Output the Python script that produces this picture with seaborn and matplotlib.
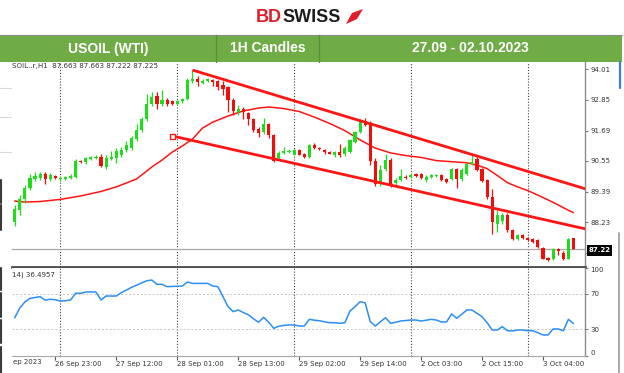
import matplotlib
matplotlib.use("Agg")
import matplotlib.pyplot as plt
import numpy as np
import pandas as pd
import seaborn as sns
from matplotlib.patches import Rectangle, Polygon
from matplotlib.lines import Line2D

sns.set_theme(style="white")
plt.rcParams["font.family"] = ["DejaVu Sans"]

# ---------------- data ----------------
open_ = [88.25, 88.70, 89.11, 89.53, 89.87, 89.91, 90.06, 89.87, 89.98, 89.85,
         89.87, 89.91, 89.94, 90.55, 90.51, 90.63, 90.66, 90.70, 90.32, 90.63,
         90.66, 90.77, 90.96, 91.03, 91.37, 91.71, 92.13, 92.69, 92.99, 92.69,
         92.84, 92.79, 92.71, 92.79, 92.88, 93.56, 93.63, 93.50, 93.56, 93.60,
         93.54, 93.41, 93.33, 92.84, 92.39, 92.50, 92.35, 92.13, 91.75, 91.64,
         91.94, 91.52, 90.66, 90.85, 90.88, 90.79, 90.96, 90.81, 90.70, 91.15,
         91.03, 90.96, 90.88, 90.79, 90.87, 90.81, 90.88, 91.26, 91.64, 92.05,
         91.94, 90.55, 89.75, 90.24, 90.58, 89.70, 89.83, 89.96, 89.94, 90.04,
         90.04, 89.83, 89.94, 89.98, 90.01, 89.87, 89.85, 90.24, 89.87, 90.06,
         90.43, 90.62, 90.24, 89.83, 89.19, 88.17, 88.29, 88.51, 87.95, 87.62,
         87.76, 87.65, 87.61, 87.57, 87.27, 86.89, 86.85, 87.23, 87.09, 86.86, 87.663]
high = [88.89, 89.26, 89.64, 90.06, 90.13, 90.13, 90.13, 90.09, 90.02, 89.98,
        89.98, 90.06, 90.62, 90.58, 90.70, 90.73, 90.77, 90.81, 90.77, 90.92,
        91.03, 91.07, 91.30, 91.49, 91.94, 92.20, 93.07, 93.14, 93.14, 93.22,
        92.92, 92.84, 92.84, 92.92, 93.67, 93.97, 93.75, 93.63, 93.67, 93.63,
        93.60, 93.56, 93.37, 92.92, 92.65, 92.58, 92.39, 92.16, 91.83, 92.16,
        91.98, 91.56, 90.92, 91.07, 91.00, 91.00, 91.00, 90.85, 91.19, 91.22,
        91.07, 91.00, 90.92, 90.92, 91.20, 91.11, 91.37, 91.67, 92.13, 92.16,
        92.05, 90.66, 90.39, 90.81, 90.66, 89.91, 90.24, 90.02, 90.09, 90.09,
        90.09, 90.02, 90.04, 90.06, 90.06, 89.91, 90.28, 90.28, 90.28, 90.47,
        90.77, 90.70, 90.28, 89.87, 89.49, 88.70, 88.59, 88.59, 87.99, 87.80,
        87.80, 87.69, 87.65, 87.61, 87.31, 86.93, 87.27, 87.27, 87.16, 87.65, 87.663]
low = [88.10, 88.51, 88.96, 89.45, 89.79, 89.83, 89.68, 89.79, 89.87, 89.79,
       89.83, 89.87, 89.91, 90.47, 90.43, 90.58, 90.62, 90.32, 90.24, 90.58,
       90.47, 90.70, 90.88, 90.96, 91.30, 91.64, 92.05, 92.62, 92.50, 92.62,
       92.62, 92.65, 92.65, 92.73, 92.84, 93.48, 93.37, 93.45, 93.52, 93.37,
       93.22, 93.03, 92.39, 92.28, 92.28, 92.13, 91.90, 91.64, 91.45, 91.56,
       91.41, 90.51, 90.62, 90.81, 90.85, 90.77, 90.77, 90.66, 90.66, 91.00,
       90.96, 90.81, 90.81, 90.70, 90.70, 90.73, 90.85, 91.22, 91.60, 91.86,
       90.39, 89.60, 89.60, 90.17, 89.57, 89.64, 89.79, 89.87, 89.91, 89.94,
       89.87, 89.75, 89.91, 89.94, 89.79, 89.72, 89.83, 89.53, 89.79, 90.02,
       90.39, 90.17, 89.75, 89.11, 87.80, 87.87, 88.17, 87.87, 87.57, 87.57,
       87.61, 87.53, 87.46, 87.27, 86.85, 86.78, 86.82, 87.01, 86.82, 86.85, 87.222]
close = [88.74, 89.11, 89.53, 89.91, 89.98, 90.06, 89.87, 90.02, 89.91, 89.91,
         89.94, 89.98, 90.55, 90.49, 90.66, 90.70, 90.71, 90.36, 90.66, 90.71,
         90.92, 90.96, 91.15, 91.41, 91.71, 92.13, 92.69, 92.96, 92.69, 92.84,
         92.69, 92.71, 92.79, 92.88, 93.60, 93.63, 93.52, 93.56, 93.63, 93.52,
         93.33, 93.26, 92.84, 92.43, 92.50, 92.39, 92.13, 91.71, 91.60, 91.94,
         91.52, 90.55, 90.85, 90.92, 90.94, 90.96, 90.79, 90.70, 91.13, 91.03,
         90.98, 90.87, 90.82, 90.88, 90.79, 91.03, 91.34, 91.64, 92.05, 91.91,
         90.55, 89.68, 90.21, 90.58, 89.65, 89.83, 89.98, 89.91, 90.02, 89.98,
         89.89, 89.96, 90.00, 90.03, 89.83, 89.75, 90.24, 89.87, 90.21, 90.43,
         90.51, 90.21, 89.79, 89.19, 88.25, 88.51, 88.51, 87.95, 87.62, 87.76,
         87.65, 87.58, 87.49, 87.31, 86.86, 86.82, 87.23, 87.16, 86.84, 87.62, 87.225]

ma_bar = [0, 2, 5, 9, 13, 17, 20, 24, 27, 29, 31, 33, 35, 37, 39, 42, 45, 48, 50, 53,
          56, 59, 62, 65, 68, 71, 74, 77, 80, 83, 86, 89, 91, 93, 95, 97, 99, 101, 103,
          105, 107, 109, 110]
ma_val = [89.04, 89.00, 89.02, 89.10, 89.23, 89.40, 89.57, 89.87, 90.32, 90.58, 90.88,
          91.11, 91.37, 91.79, 92.01, 92.24, 92.43, 92.54, 92.58, 92.52, 92.41, 92.20,
          91.96, 91.69, 91.34, 91.03, 90.85, 90.75, 90.68, 90.56, 90.52, 90.48, 90.39,
          90.26, 90.00, 89.73, 89.57, 89.43, 89.26, 89.08, 88.89, 88.69, 88.60]

rsi = [43, 54, 61, 65, 66, 67, 63, 64, 63.5, 62,
       62.4, 63.2, 70.8, 70.8, 72.3, 72.3, 72.3, 63.2, 67.7, 67.7,
       67.7, 71.5, 74.5, 77.5, 80, 82.5, 85, 85.8, 81, 81,
       78.3, 78.5, 78.8, 79, 83.6, 82, 82, 82, 82, 79,
       78.3, 67, 55.6, 50, 51.9, 49, 46.5, 42, 38, 43.6,
       38, 31.1, 33.5, 34.5, 34.9, 34.9, 33.7, 33.7, 41.3, 40.3,
       39.7, 38.5, 37.5, 37.5, 36.8, 37.5, 50.7, 55.6, 61.3, 60,
       38.6, 33.7, 38.6, 43.1, 36.8, 38, 39.4, 40, 40.5, 40.5,
       39.4, 40.3, 41.3, 40.5, 38.3, 38.3, 47.3, 42.5, 47, 51.9,
       51.9, 48.1, 44.3, 37.5, 29.2, 29.2, 33, 28.4, 28.1, 29.2,
       29.2, 28.4, 28.4, 26.2, 23.6, 23.6, 30.4, 30.4, 28.4, 41.3, 36.4957]

upper_bars = [35, 90]
upper_prices = [93.97, 90.79]
lower_bars = [31, 110]
lower_prices = [91.49, 88.09]

price_ticks = [94.01, 92.85, 91.69, 90.55, 89.39, 88.23, 87.07]
rsi_ticks = [100, 70, 30, 0]
rsi_levels = [70, 30]
time_tick_bars = [8, 20, 32, 44, 56, 68, 80, 92, 104]
time_tick_labels = ["26 Sep 23:00", "27 Sep 12:00", "28 Sep 01:00", "28 Sep 13:00",
                    "29 Sep 02:00", "29 Sep 14:00", "2 Oct 03:00", "2 Oct 15:00",
                    "3 Oct 04:00"]
day_sep_bars = [9, 32, 55, 78, 101]
last_price = 87.22

# ---------------- layout helpers ----------------
W, H = 624, 373
def fx(x):
    return x / W
def fy(y):
    return 1 - y / H

GREEN = "#1fdc1f"
RED = "#f20d0d"
LINE_RED = "#ff1414"

n = len(open_)
df = pd.DataFrame({"bar": np.arange(n), "open": open_, "high": high,
                   "low": low, "close": close, "rsi": rsi})
ma_df = pd.DataFrame({"bar": ma_bar, "ma": ma_val})

fig = plt.figure(figsize=(6.24, 3.73), dpi=100)
fig.patch.set_facecolor("white")

XL = (-0.53, 112.27)
ax = fig.add_axes([fx(12), fy(267), 573 / W, 205 / H])
axr = fig.add_axes([fx(12), fy(355.8), 573 / W, 88.3 / H])

# ---- candles ----
up = df["close"] >= df["open"]
colors = np.where(up, GREEN, RED)
body_lo = np.minimum(df["open"], df["close"])
body_h = np.maximum(np.abs(df["close"] - df["open"]), 0.035)
ax.vlines(df["bar"], df["low"], df["high"], colors=colors, lw=0.9, zorder=3)
ax.bar(df["bar"], body_h, bottom=body_lo, width=0.62, color=colors,
       linewidth=0, zorder=4)

# ---- moving average ----
sns.lineplot(data=ma_df, x="bar", y="ma", ax=ax, color=LINE_RED, lw=1.1,
             estimator=None, sort=False, zorder=2)

# ---- channel lines ----
for bs, ps, mark in [(upper_bars, upper_prices, False), (lower_bars, lower_prices, True)]:
    slope = (ps[1] - ps[0]) / (bs[1] - bs[0])
    xe = XL[1] + 1
    ax.plot([bs[0], xe], [ps[0], ps[0] + slope * (xe - bs[0])], color=LINE_RED,
            lw=2.0, solid_capstyle="butt", zorder=5)
    if mark:
        ax.plot([bs[0]], [ps[0]], marker="s", ms=3.6, mfc="white", mec=LINE_RED,
                mew=1.0, zorder=6)

# ---- current price line ----
ax.axhline(last_price, color="#a9a9a9", lw=0.9, zorder=1)

# ---- day separators ----
for a in (ax, axr):
    for b in day_sep_bars:
        a.axvline(b, color="#404040", lw=0.8, ls=(0, (1, 1.6)), zorder=0)

ax.set_xlim(*XL)
ax.set_ylim(86.554, 94.274)
ax.set_xlabel("")
ax.set_ylabel("")
ax.grid(False)
for s in ("top", "left"):
    ax.spines[s].set_visible(False)
ax.spines["right"].set_color("#8c8c8c")
ax.spines["right"].set_linewidth(1.0)
ax.spines["bottom"].set_color("#4d4d4d")
ax.spines["bottom"].set_linewidth(2.0)
ax.yaxis.tick_right()
ax.set_yticks(price_ticks)
ax.set_yticklabels([f"{v:.2f}" for v in price_ticks])
ax.tick_params(axis="y", right=True, left=False, length=2.5, width=0.8,
               color="#777777", labelsize=5, labelcolor="#333333", pad=1.5)
ax.tick_params(axis="x", bottom=False, labelbottom=False)

# ---- RSI ----
sns.lineplot(data=df, x="bar", y="rsi", ax=axr, color="#2b8ff2", lw=1.1,
             estimator=None, zorder=3)
for lv in rsi_levels:
    axr.axhline(lv, color="#c4c4c4", lw=0.7, ls=(0, (2, 2)), zorder=1)
axr.set_xlim(*XL)
axr.set_ylim(0, 100)
axr.set_xlabel("")
axr.set_ylabel("")
axr.grid(False)
for s in ("top", "left"):
    axr.spines[s].set_visible(False)
axr.spines["right"].set_color("#8c8c8c")
axr.spines["right"].set_linewidth(1.0)
axr.spines["bottom"].set_color("#a8a8a8")
axr.spines["bottom"].set_linewidth(0.8)
axr.yaxis.tick_right()
axr.set_yticks(rsi_ticks)
labs = axr.set_yticklabels([str(v) for v in rsi_ticks])
labs[0].set_va("top")
labs[-1].set_va("bottom")
axr.tick_params(axis="y", right=True, left=False, length=2.5, width=0.8,
                color="#777777", labelsize=5, labelcolor="#333333", pad=1.5)
axr.set_xticks(time_tick_bars)
xl = axr.set_xticklabels(time_tick_labels)
for t in xl:
    t.set_ha("left")
axr.tick_params(axis="x", bottom=True, length=3, width=0.8, color="#555555",
                labelsize=5, labelcolor="#333333", pad=1.0)

# ---- in-chart texts ----
fig.text(fx(12), fy(66), "SOIL..r,H1  87.663 87.663 87.222 87.225", fontsize=5.1,
         color="#333333", va="center", ha="left")
fig.text(fx(12), fy(275), "14) 36.4957", fontsize=5.0, color="#333333",
         va="center", ha="left")
fig.text(fx(12.5), fy(362), "ep 2023", fontsize=5, color="#333333", va="center", ha="left")

# last price box
fig.patches.append(Rectangle((fx(587), fy(256)), 25 / W, 11.5 / H,
                             transform=fig.transFigure, facecolor="black",
                             edgecolor="none", zorder=10))
fig.text(fx(599.5), fy(250.3), "87.22", fontsize=5, color="white", ha="center",
         va="center", zorder=11, weight="bold")

# ---- header ----
fig.patches.append(Rectangle((0, fy(62)), 622 / W, 27 / H, transform=fig.transFigure,
                             facecolor="#6fac46", edgecolor="none", zorder=1))
fig.lines.append(Line2D([0, fx(622)], [fy(35), fy(35)], transform=fig.transFigure,
                        color="#8a8a8a", lw=0.8))
for xd in (216, 319):
    fig.lines.append(Line2D([fx(xd), fx(xd)], [fy(35), fy(62)], transform=fig.transFigure,
                            color="#5b8f39", lw=1.0))
hdr = dict(color="white", fontsize=10, weight="bold", family=["Liberation Sans"],
           ha="center", va="center", zorder=5)
fig.text(fx(108), fy(48.5), "USOIL (WTI)", **hdr)
fig.text(fx(267.5), fy(48.5), "1H Candles", **hdr)
fig.text(fx(470), fy(48.5), "27.09 - 02.10.2023", **hdr)

# ---- logo ----
fig.text(fx(282), fy(17.5), "BD", color="#e21d2a", fontsize=13, weight="bold",
         family=["Liberation Sans"], ha="right", va="center")
fig.text(fx(282.5), fy(17.5), "SWISS", color="#1c1c1c", fontsize=13, weight="bold",
         family=["Liberation Sans"], ha="left", va="center")
logo_pts = [(346, 24), (352, 13), (363, 9), (357, 19)]
fig.patches.append(Polygon([(fx(a), fy(b)) for a, b in logo_pts], closed=True,
                           transform=fig.transFigure, facecolor="#e21d2a",
                           edgecolor="none"))

# ---- screenshot edge artifacts ----
for y0, y1 in [(180, 203), (205, 230), (268, 290), (293, 317), (320, 343), (347, 373)]:
    fig.lines.append(Line2D([fx(1), fx(1)], [fy(y0), fy(y1)], transform=fig.transFigure,
                            color="#3a3a3a", lw=1.5))
for yy in (88, 117, 152):
    fig.lines.append(Line2D([0, fx(11)], [fy(yy), fy(yy)], transform=fig.transFigure,
                            color="#d8d8d8", lw=0.8))
fig.lines.append(Line2D([fx(620), fx(620)], [fy(62), fy(88)], transform=fig.transFigure,
                        color="#3b7fd6", lw=1.6))
fig.lines.append(Line2D([fx(619), fx(619)], [fy(233), fy(373)], transform=fig.transFigure,
                        color="#9a9a9a", lw=1.2))

fig.savefig("out.png", dpi=100, facecolor="white")
